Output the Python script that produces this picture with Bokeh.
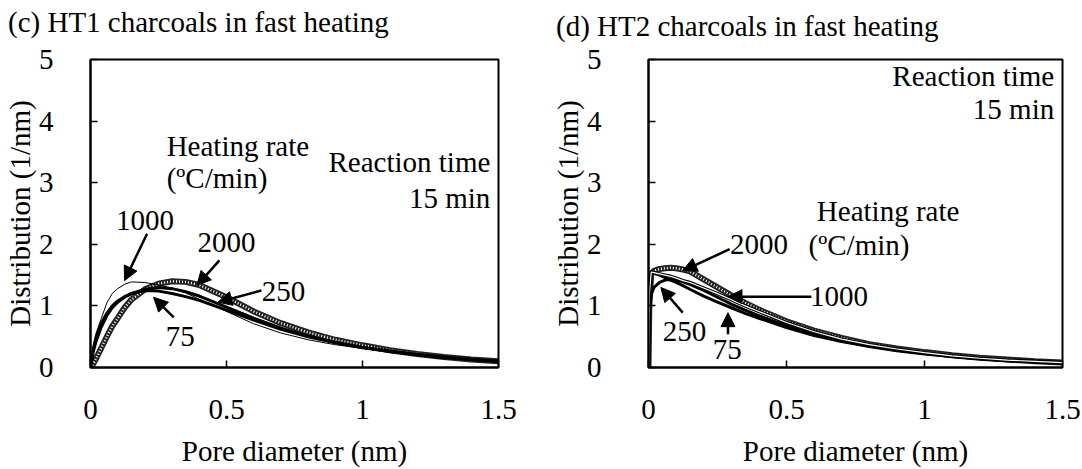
from bokeh.plotting import figure
from bokeh.layouts import row, column
from bokeh.models import FixedTicker, Arrow, NormalHead, Label, Div
from bokeh.embed import file_html
from bokeh.resources import INLINE

FONT = "Liberation Serif"
FS = "29px"

# ---------------- data ----------------
x_ticks = [0, 0.5, 1, 1.5]
x_tick_labels = ["0", "0.5", "1", "1.5"]
y_ticks = [0, 1, 2, 3, 4, 5]

# (c) HT1 charcoals
c_x = [0, 0.01, 0.02, 0.04, 0.06, 0.08, 0.1, 0.125, 0.15, 0.2, 0.25, 0.3, 0.35,
       0.4, 0.5, 0.6, 0.7, 0.8, 0.9, 1.0, 1.1, 1.2, 1.3, 1.4, 1.5]
c_1000 = [0, 0.35, 0.55, 0.80, 1.05, 1.20, 1.28, 1.35, 1.39, 1.38, 1.34, 1.29, 1.21,
          1.11, 0.91, 0.71, 0.56, 0.45, 0.37, 0.31, 0.25, 0.20, 0.16, 0.12, 0.09]
c_2000 = [0, 0.06, 0.14, 0.32, 0.50, 0.67, 0.80, 0.97, 1.10, 1.27, 1.36, 1.40, 1.39,
          1.34, 1.14, 0.91, 0.72, 0.57, 0.45, 0.36, 0.28, 0.22, 0.17, 0.13, 0.10]
c_250 = [0, 0.25, 0.42, 0.66, 0.84, 0.97, 1.06, 1.14, 1.20, 1.27, 1.30, 1.28, 1.23,
         1.16, 0.98, 0.80, 0.64, 0.51, 0.41, 0.33, 0.27, 0.21, 0.17, 0.13, 0.10]
c_75 = [0, 0.30, 0.48, 0.72, 0.88, 1.00, 1.08, 1.15, 1.20, 1.25, 1.24, 1.20, 1.15,
        1.09, 0.93, 0.77, 0.62, 0.50, 0.40, 0.32, 0.26, 0.21, 0.16, 0.13, 0.10]

# (d) HT2 charcoals
d_x = [0, 0.003, 0.01, 0.02, 0.04, 0.06, 0.08, 0.1, 0.125, 0.15, 0.2, 0.25, 0.3,
       0.35, 0.4, 0.5, 0.6, 0.7, 0.8, 0.9, 1.0, 1.1, 1.2, 1.3, 1.4, 1.5]
d_2000 = [0, 1.00, 1.52, 1.57, 1.60, 1.61, 1.62, 1.61, 1.59, 1.56, 1.43, 1.30, 1.17,
          1.05, 0.94, 0.75, 0.60, 0.48, 0.38, 0.31, 0.25, 0.20, 0.16, 0.13, 0.10, 0.08]
d_1000 = [0, 1.20, 1.55, 1.54, 1.52, 1.50, 1.48, 1.45, 1.41, 1.38, 1.29, 1.20, 1.10,
          1.00, 0.91, 0.73, 0.58, 0.46, 0.37, 0.30, 0.24, 0.19, 0.15, 0.12, 0.10, 0.08]
d_250 = [0, 0.90, 1.19, 1.30, 1.38, 1.42, 1.43, 1.42, 1.39, 1.35, 1.25, 1.14, 1.03,
         0.93, 0.84, 0.68, 0.54, 0.43, 0.35, 0.28, 0.23, 0.18, 0.14, 0.11, 0.09, 0.07]
d_75 = [0, 1.10, 1.54, 1.53, 1.50, 1.46, 1.42, 1.38, 1.33, 1.27, 1.16, 1.06, 0.97,
        0.88, 0.80, 0.65, 0.52, 0.42, 0.34, 0.27, 0.22, 0.18, 0.14, 0.11, 0.09, 0.07]

TITLE_H = 44


def make_title(text, left, line_h):
    return Div(text=text, width=541 - left, height=TITLE_H, margin=(0, 0, 0, left),
               styles={"font-family": FONT, "font-size": FS, "color": "black",
                       "line-height": f"{line_h}px", "white-space": "nowrap"})


def make_fig(bl, br, ylab_standoff):
    p = figure(width=541, height=469 - TITLE_H, x_range=(0, 1.5), y_range=(0, 5),
               output_backend="svg", toolbar_location=None,
               min_border_left=bl, min_border_right=br,
               min_border_top=59 - TITLE_H, min_border_bottom=102,
               x_axis_label="Pore diameter (nm)",
               y_axis_label="Distribution (1/nm)")
    p.outline_line_color = "black"
    p.outline_line_width = 2
    p.outline_line_alpha = 1
    p.xgrid.visible = False
    p.ygrid.visible = False
    p.xaxis.ticker = FixedTicker(ticks=x_ticks)
    p.xaxis.major_label_overrides = {t: l for t, l in zip(x_ticks, x_tick_labels)}
    p.yaxis.ticker = FixedTicker(ticks=y_ticks)
    for ax in (p.xaxis[0], p.yaxis[0]):
        ax.axis_line_color = "black"
        ax.axis_line_width = 2
        ax.major_tick_in = 7
        ax.major_tick_out = 0
        ax.minor_tick_in = 0
        ax.minor_tick_out = 0
        ax.major_tick_line_color = "black"
        ax.major_tick_line_width = 1.5
        ax.major_label_text_font = FONT
        ax.major_label_text_font_size = FS
        ax.major_label_text_color = "black"
        ax.axis_label_text_font = FONT
        ax.axis_label_text_font_size = FS
        ax.axis_label_text_font_style = "normal"
        ax.axis_label_text_color = "black"
    p.xaxis.major_label_standoff = 32
    p.xaxis.axis_label_standoff = 13
    p.yaxis.major_label_standoff = ylab_standoff
    p.yaxis.axis_label_standoff = 0
    p.background_fill_color = "white"
    p.border_fill_color = "white"
    return p


def hatched(p, x, y):
    p.line(x, y, line_color="#222222", line_width=6)
    p.line(x, y, line_color="white", line_width=2.5, line_dash="1 2")


def label(p, x, y, text, align="left"):
    p.add_layout(Label(x=x, y=y, text=text, text_font=FONT, text_font_size=FS,
                       text_align=align, text_baseline="middle", text_color="black"))


def arrow(p, x0, y0, x1, y1):
    p.add_layout(Arrow(end=NormalHead(size=14, fill_color="black", line_color="black"),
                       x_start=x0, y_start=y0, x_end=x1, y_end=y1,
                       line_color="black", line_width=2.5))


# ---------------- (c) ----------------
t1 = make_title("(c) HT1 charcoals in fast heating", 8, 44)
p1 = make_fig(90, 43, 37)
hatched(p1, c_x, c_2000)
p1.line(c_x, c_250, line_color="black", line_width=3)
p1.line(c_x, c_75, line_color="black", line_width=3)
p1.line(c_x, c_1000, line_color="black", line_width=1)

label(p1, 0.28, 3.59, "Heating rate")
label(p1, 0.28, 3.07, "(ºC/min)")
label(p1, 1.47, 3.34, "Reaction time", "right")
label(p1, 1.47, 2.75, "15 min", "right")
label(p1, 0.20, 2.39, "1000", "center")
label(p1, 0.50, 2.03, "2000", "center")
label(p1, 0.71, 1.24, "250", "center")
label(p1, 0.33, 0.50, "75", "center")
arrow(p1, 0.208, 2.17, 0.125, 1.41)
arrow(p1, 0.474, 1.74, 0.391, 1.33)
arrow(p1, 0.628, 1.25, 0.468, 1.06)
arrow(p1, 0.306, 0.815, 0.232, 1.14)

# ---------------- (d) ----------------
t2 = make_title("(d) HT2 charcoals in fast heating", 15, 52)
p2 = make_fig(107, 20, 47)
hatched(p2, d_x, d_2000)
p2.line(d_x, d_250, line_color="black", line_width=3)
p2.line(d_x, d_75, line_color="black", line_width=3)
p2.line(d_x, d_1000, line_color="black", line_width=3.5)
p2.line(d_x, d_1000, line_color="white", line_width=1.2)

label(p2, 1.47, 4.74, "Reaction time", "right")
label(p2, 1.47, 4.20, "15 min", "right")
label(p2, 0.61, 2.54, "Heating rate")
label(p2, 0.58, 1.99, "(ºC/min)")
label(p2, 0.40, 1.99, "2000", "center")
label(p2, 0.69, 1.15, "1000", "center")
label(p2, 0.13, 0.58, "250", "center")
label(p2, 0.285, 0.29, "75", "center")
arrow(p2, 0.294, 1.92, 0.124, 1.57)
arrow(p2, 0.59, 1.15, 0.288, 1.15)
arrow(p2, 0.124, 0.89, 0.045, 1.30)
arrow(p2, 0.288, 0.54, 0.288, 0.89)

layout = row(column(t1, p1), column(t2, p2))
open("out.html", "w").write(file_html(layout, INLINE))
